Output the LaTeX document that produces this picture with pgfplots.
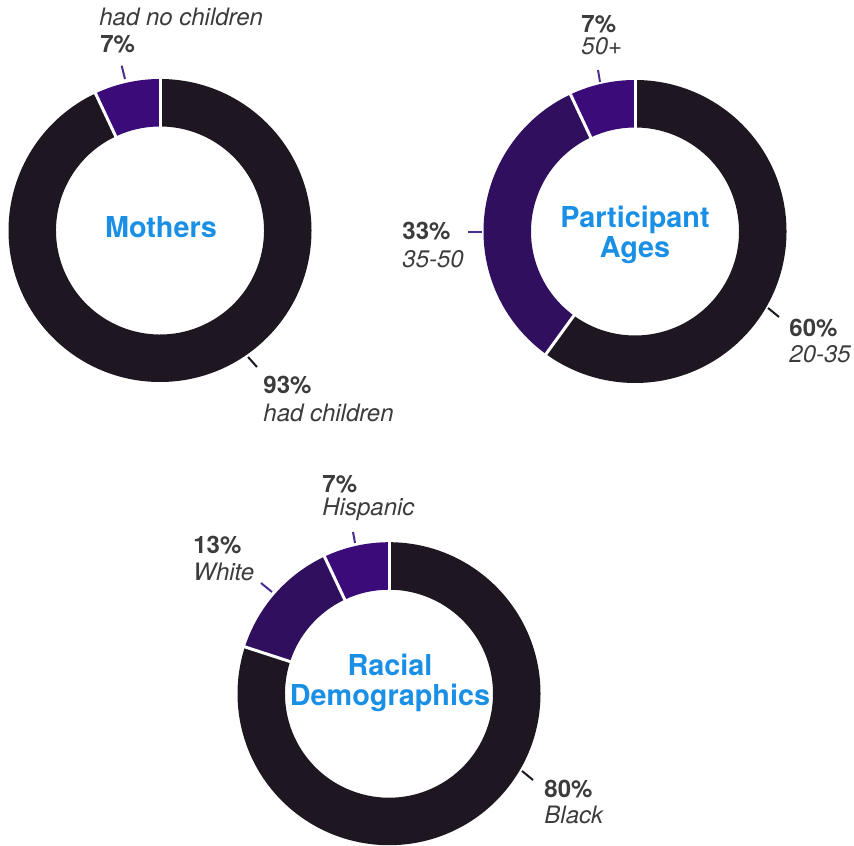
\documentclass[border=0pt]{standalone}
\usepackage{pgfplots}
\usepackage{pgfplotstable}
\pgfplotsset{compat=1.18}
\usepackage{fontspec}
\setmainfont{TeX Gyre Heros}

\definecolor{darkslice}{HTML}{1E1721}
\definecolor{purplesolid}{HTML}{3B0B7A}
\definecolor{purplestripe}{HTML}{2F0F5E}
\definecolor{leadpurple}{HTML}{4A2D8C}
\definecolor{labeltext}{HTML}{3C3C3C}
\definecolor{centerblue}{HTML}{1A8FE6}

% share (percent) and fill colour of each slice, clockwise from 12 o'clock
\pgfplotstableread{
value color
93 darkslice
7 purplesolid
}\mothersdata
\pgfplotstableread{
value color
60 darkslice
33 purplestripe
7 purplesolid
}\agesdata
\pgfplotstableread{
value color
80 darkslice
13 purplestripe
7 purplesolid
}\racedata

\newcommand\Rout{151.5}
\newcommand\Rin{104}

\newcommand\slice[5]{% cx cy a1 a2 color
  \edef\tmp{\noexpand\fill[#5] (axis cs:{#1+\Rout*cos(#3)},{#2+\Rout*sin(#3)})
    arc[start angle=#3, end angle=#4, radius=\Rout*0.5pt]
    -- (axis cs:{#1+\Rin*cos(#4)},{#2+\Rin*sin(#4)})
    arc[start angle=#4, end angle=#3, radius=\Rin*0.5pt] -- cycle;}\tmp
}
\newcommand\gap[3]{% cx cy angle
  \edef\tmp{\noexpand\draw[white, line width=1.5pt]
    (axis cs:{#1+(\Rin-3)*cos(#3)},{#2+(\Rin-3)*sin(#3)}) --
    (axis cs:{#1+(\Rout+3)*cos(#3)},{#2+(\Rout+3)*sin(#3)});}\tmp
}
\newcommand\drawdonut[3]{% table cx cy
  \pgfplotstablegetrowsof{#1}\pgfmathtruncatemacro\N{\pgfplotsretval-1}%
  \def\cum{0}%
  \pgfplotsforeachungrouped \i in {0,...,\N}{%
    \pgfplotstablegetelem{\i}{value}\of{#1}\let\v\pgfplotsretval
    \pgfplotstablegetelem{\i}{color}\of{#1}\let\c\pgfplotsretval
    \pgfmathsetmacro\a{90-3.6*\cum}%
    \pgfmathsetmacro\b{90-3.6*(\cum+\v)}%
    \edef\tmpb{\noexpand\slice{#2}{#3}{\a}{\b}{\c}}\tmpb
    \pgfmathsetmacro\cum{\cum+\v}%
  }%
  \def\cum{0}%
  \pgfplotsforeachungrouped \i in {0,...,\N}{%
    \pgfplotstablegetelem{\i}{value}\of{#1}\let\v\pgfplotsretval
    \pgfmathsetmacro\a{90-3.6*\cum}%
    \edef\tmpb{\noexpand\gap{#2}{#3}{\a}}\tmpb
    \pgfmathsetmacro\cum{\cum+\v}%
  }%
}

\tikzset{
  pct/.style={anchor=base west, inner sep=0pt, text=labeltext, font=\fontsize{12}{14}\selectfont\bfseries},
  nm/.style={anchor=base west, inner sep=0pt, text=labeltext, font=\fontsize{12}{14}\selectfont\itshape},
  ctr/.style={anchor=base, inner sep=0pt, text=centerblue, font=\fontsize{14.4}{16}\selectfont\bfseries},
}

\begin{document}
\begin{tikzpicture}
\begin{axis}[x=0.5pt, y=0.5pt, xmin=0, xmax=854, ymin=0, ymax=845,
  hide axis, clip=false, scale only axis]
\addplot[draw=none, forget plot] coordinates {(0,0) (854,845)};

% ---------- Mothers ----------
\drawdonut{\mothersdata}{160}{614.5}
\node[ctr] at (axis cs:161,607) {Mothers};
\draw[leadpurple, line width=1pt] (axis cs:121.7,779.3) -- (axis cs:125,766);
\node[nm] at (axis cs:99,819) {had no children};
\node[pct] at (axis cs:100,792) {7\%};
\draw[darkslice, line width=1pt] (axis cs:248,488) -- (axis cs:257,478);
\node[pct] at (axis cs:263,451) {93\%};
\node[nm] at (axis cs:263,423) {had children};

% ---------- Participant Ages ----------
\drawdonut{\agesdata}{635}{613.5}
\node[ctr] at (axis cs:635,617) {Participant};
\node[ctr] at (axis cs:635,587) {Ages};
\draw[leadpurple, line width=1pt] (axis cs:598,775) -- (axis cs:600,763);
\node[pct] at (axis cs:581,812) {7\%};
\node[nm] at (axis cs:581,790) {50+};
\draw[leadpurple, line width=1pt] (axis cs:468,613) -- (axis cs:482,613);
\node[pct] at (axis cs:402,605) {33\%};
\node[nm] at (axis cs:402,577) {35-50};
\draw[darkslice, line width=1pt] (axis cs:768,537) -- (axis cs:779,528);
\node[pct] at (axis cs:789,508) {60\%};
\node[nm] at (axis cs:789,482) {20-35};

% ---------- Racial Demographics ----------
\drawdonut{\racedata}{389}{151.3}
\node[ctr] at (axis cs:390,170) {Racial};
\node[ctr] at (axis cs:390,140) {Demographics};
\draw[leadpurple, line width=1pt] (axis cs:353,313) -- (axis cs:355,302);
\node[pct] at (axis cs:322,352) {7\%};
\node[nm] at (axis cs:322,329) {Hispanic};
\draw[leadpurple, line width=1pt] (axis cs:261,262) -- (axis cs:272,253);
\node[pct] at (axis cs:193,292) {13\%};
\node[nm] at (axis cs:193,265) {White};
\draw[darkslice, line width=1pt] (axis cs:522,74) -- (axis cs:533,65);
\node[pct] at (axis cs:544,48) {80\%};
\node[nm] at (axis cs:544,22) {Black};
\end{axis}
\end{tikzpicture}
\end{document}
